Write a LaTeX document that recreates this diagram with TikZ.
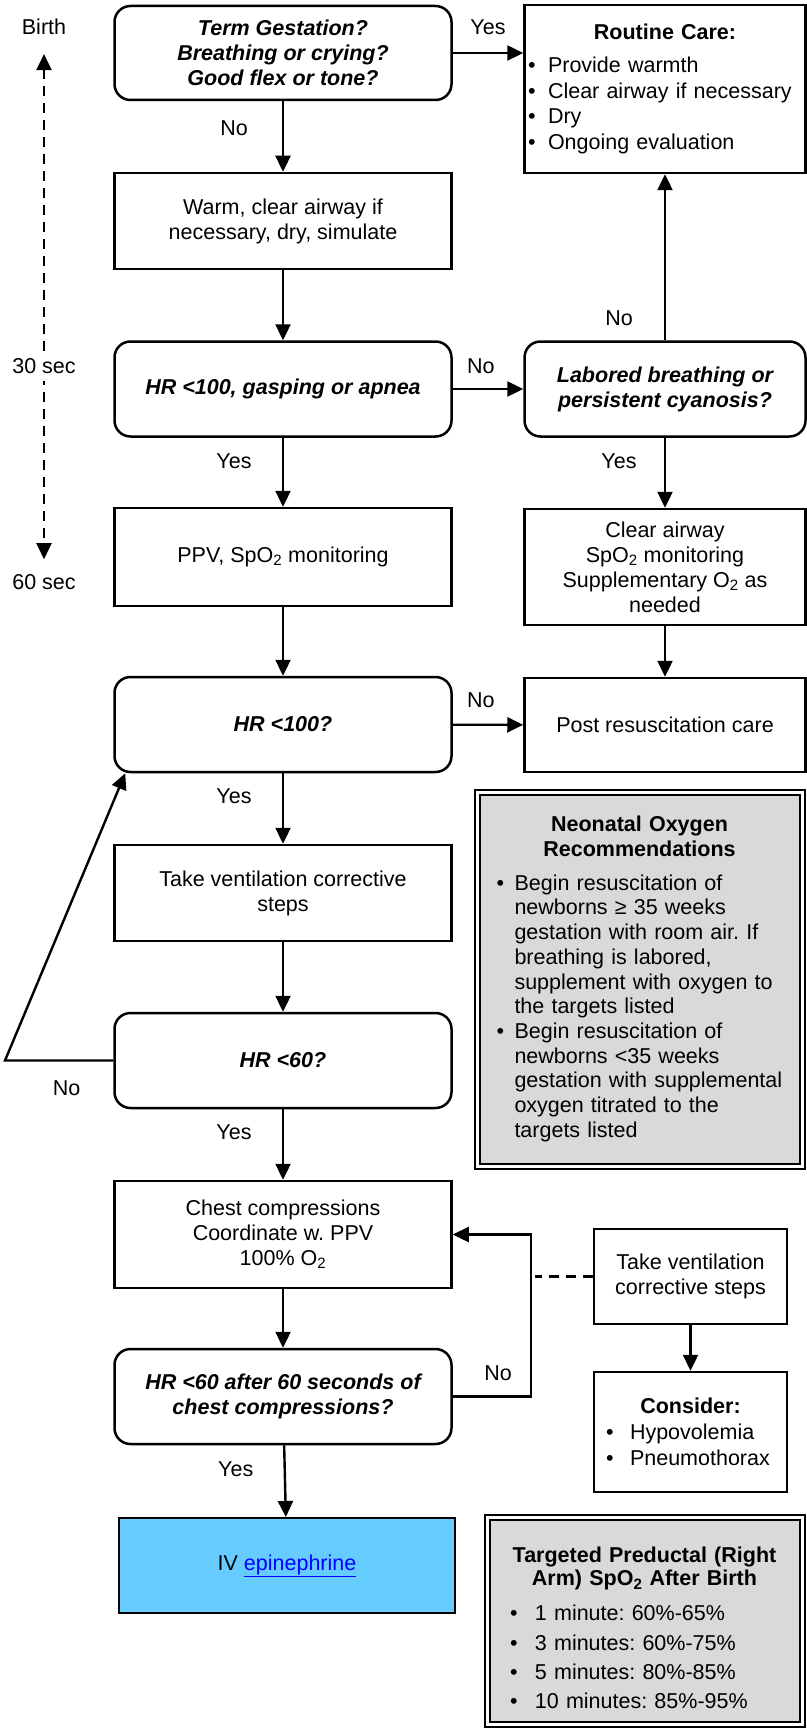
\documentclass[tikz,border=0pt]{standalone}
\usepackage{fontspec}
\setmainfont{Liberation Sans}
\usepackage{tikz}
\usetikzlibrary{arrows.meta}
\definecolor{bgNote}{RGB}{217,217,217}
\definecolor{bgEpi}{RGB}{102,204,255}
\definecolor{linkBlue}{RGB}{0,0,255}
\frenchspacing
\newcommand{\bulItem}[1][20pt]{\par\noindent\hangindent=#1\hangafter=1\makebox[#1][l]{\textbullet}}

\begin{document}
\begin{tikzpicture}[x=1pt,y=-1pt,line width=2.4pt,>={Triangle[length=16pt,width=15pt]}]
 \tikzset{
  stepBox/.style={rectangle,draw,line width=2.5pt,inner sep=0pt,align=center,
   minimum width=337pt,minimum height=96pt,font=\fontsize{21.5}{25}\selectfont},
  askBox/.style={stepBox,rounded corners=16pt,minimum height=95pt,
   font=\fontsize{21.5}{25}\selectfont\bfseries\itshape},
  noteBox/.style={rectangle,draw,fill=bgNote,line width=2pt,double=white,
   double distance=3pt,inner sep=0pt,align=left},
  timeLabel/.style={inner sep=0pt,font=\fontsize{21.5}{25}\selectfont},
  edgeLabel/.style={inner sep=0pt,font=\fontsize{21.5}{25}\selectfont}
  }
  %\draw[help lines] (0,0) grid (806,1728);
  \useasboundingbox (0,0) rectangle (806,1728);

  % time line
  \node[timeLabel] (birth) at (44,27) {Birth};
  \node[timeLabel] (sec60) at (44,582) {60 sec};
  \draw[<->,dash pattern=on 10pt off 7pt,shorten <=18pt,shorten >=14pt] (birth) -- (sec60);
  \node[timeLabel,fill=white,inner ysep=7pt,inner xsep=2pt] (sec30) at (44,366) {30 sec};

  % main column
  \node[askBox,minimum height=94pt] (qBirth) at (283,53) {Term Gestation?\\Breathing or crying?\\Good flex or tone?};
  \node[stepBox] (warm) at (283,221) {Warm, clear airway if\\necessary, dry, simulate};
  \node[askBox] (qGasp) at (283,389) {HR <100, gasping or apnea};
  \node[stepBox,minimum height=98pt] (ppv) at (283,557) {PPV, SpO\textsubscript{2} monitoring};
  \node[askBox] (qHr100) at (283,724.5) {HR <100?};
  \node[stepBox] (ventA) at (283,893) {Take ventilation corrective\\steps};
  \node[askBox] (qHr60) at (283,1060.5) {HR <60?};
  \node[stepBox,minimum height=107pt] (chest) at (283,1234.5) {Chest compressions\\Coordinate w. PPV\\100\% O\textsubscript{2}};
  \node[askBox] (qHr60b) at (283,1396.5) {HR <60 after 60 seconds of\\chest compressions?};
  \node[stepBox,fill=bgEpi,line width=2pt,minimum width=336pt,minimum height=95pt] (epi) at (287,1565.5)
   {IV {\color{linkBlue}\underline{epinephrine}}};

  % side column
  \node[stepBox,minimum width=281pt,minimum height=168pt,text width=274pt,align=left,
   font=\fontsize{21.5}{25.5}\selectfont] (routine) at (665,89)
   {{\centering\bfseries Routine Care:\par}\vspace{7.5pt}
    \bulItem Provide warmth
    \bulItem Clear airway if necessary
    \bulItem Dry
    \bulItem Ongoing evaluation\par\vspace*{18pt}};
  \node[askBox,minimum width=281pt] (labored) at (665,389) {Labored breathing or\\persistent cyanosis?};
  \node[stepBox,minimum width=281pt,minimum height=116pt] (clear) at (665,567)
   {Clear airway\\SpO\textsubscript{2} monitoring\\Supplementary O\textsubscript{2} as\\needed};
  \node[stepBox,minimum width=281pt,minimum height=94pt] (post) at (665,725) {Post resuscitation care};

  % boxes with the notes
  \node[noteBox,minimum width=325pt,minimum height=374pt,text width=286pt,
   font=\fontsize{21.5}{24.7}\selectfont] (oxyNote) at (639.5,979)
   {{\centering\bfseries Neonatal Oxygen\\Recommendations\par}\vspace{9pt}
    \bulItem[18pt]Begin resuscitation of\newline newborns ≥ 35 weeks\newline gestation with room air. If\newline
     breathing is labored,\newline supplement with oxygen to\newline the targets listed
    \bulItem[18pt]Begin resuscitation of\newline newborns <35 weeks\newline gestation with supplemental\newline
     oxygen titrated to the\newline targets listed\par};
  \node[noteBox,minimum width=315pt,minimum height=207pt,text width=269pt,
   font=\fontsize{21.5}{23.5}\selectfont] (spoNote) at (644.5,1620.5)
   {{\centering\bfseries\rule{0pt}{30pt}Targeted Preductal (Right\\Arm) SpO\textsubscript{2} After Birth\par}\vspace{5.7pt}
    \fontsize{21.5}{29.3}\selectfont
    \bulItem[25pt]1 minute: 60\%-65\%
    \bulItem[25pt]3 minutes: 60\%-75\%
    \bulItem[25pt]5 minutes: 80\%-85\%
    \bulItem[25pt]10 minutes: 85\%-95\%\par};

  \node[stepBox,minimum width=193pt,minimum height=95pt] (ventB) at (690.5,1276.5) {Take ventilation\\corrective steps};
  \node[stepBox,minimum width=193pt,minimum height=120pt,text width=169pt,align=left,
   font=\fontsize{21.5}{26}\selectfont] (consider) at (690.5,1432)
   {{\centering\bfseries Consider:\par}
    \bulItem[24pt]Hypovolemia
    \bulItem[24pt]Pneumothorax\par};

  % arrows down the main column
  \draw[->] (qBirth) -- node[edgeLabel,pos=0.38,xshift=-49pt] {No} (warm);
  \draw[->] (warm) -- (qGasp);
  \draw[->] (qGasp) -- node[edgeLabel,pos=0.34,xshift=-49pt] {Yes} (ppv);
  \draw[->] (ppv) -- (qHr100);
  \draw[->] (qHr100) -- node[edgeLabel,pos=0.33,xshift=-49pt] {Yes} (ventA);
  \draw[->] (ventA) -- (qHr60);
  \draw[->] (qHr60) -- node[edgeLabel,pos=0.33,xshift=-49pt] {Yes} (chest);
  \draw[->] (chest) -- (qHr60b);
  \draw[->] (qHr60b) -- node[edgeLabel,pos=0.34,xshift=-49pt] {Yes} (epi);

  % arrows across
  \draw[->] (qBirth.east) -- node[edgeLabel,above=17pt] {Yes} (qBirth.east -| routine.west);
  \draw[->] (qGasp) -- node[edgeLabel,pos=0.4,above=14pt] {No} (labored);
  \draw[->] (qHr100) -- node[edgeLabel,pos=0.4,above=16pt] {No} (post);
  \draw[->] (labored) -- node[edgeLabel,pos=0.13,xshift=-46pt] {No} (routine);
  \draw[->] (labored) -- node[edgeLabel,pos=0.33,xshift=-46pt] {Yes} (clear);
  \draw[->] (clear) -- (post);
  \draw[->] (ventB) -- (consider);

  % loops back
  \coordinate (loopL) at (5,1060.5);
  \draw[->] (qHr60.west) -- node[edgeLabel,pos=0.43,below=19pt] {No} (loopL) -- ([xshift=12pt]qHr100.south west);
  \draw[->] (qHr60b.east) -- node[edgeLabel,pos=0.58,above=15pt] {No} ++(78,0) |- (chest.east);
  \coordinate (dashEnd) at (535,1276.5);
  \draw[dash pattern=on 10pt off 7pt] (ventB.west) -- (dashEnd);
\end{tikzpicture}
\end{document}
